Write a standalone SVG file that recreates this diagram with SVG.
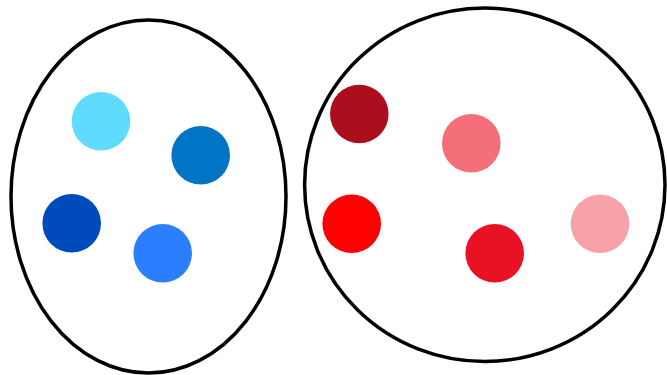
<svg xmlns="http://www.w3.org/2000/svg" width="667" height="375" viewBox="0 0 667 375">
<style>
.set{fill:none;stroke:#000;stroke-width:3.5}
</style>
<rect width="667" height="375" fill="#fff"/>
<g id="set-blue"><ellipse class="set" cx="148.5" cy="196.5" rx="137.5" ry="176.5"/></g>
<g id="set-red"><ellipse class="set" cx="484.8" cy="184.8" rx="180.2" ry="176.7"/></g>
<g id="b1"><circle cx="101" cy="121.3" r="29.3" fill="#5FDBFF"/></g>
<g id="b2"><circle cx="200.7" cy="155.3" r="29.3" fill="#0074C5"/></g>
<g id="b3"><circle cx="71.7" cy="223.3" r="29.3" fill="#004BBB"/></g>
<g id="b4"><circle cx="162.7" cy="253.3" r="29.3" fill="#2B7FFF"/></g>
<g id="r1"><circle cx="359.3" cy="114" r="29.3" fill="#AB0F1E"/></g>
<g id="r2"><circle cx="471.3" cy="143.3" r="29.3" fill="#F56F7B"/></g>
<g id="r3"><circle cx="351.7" cy="223.7" r="29.3" fill="#FF0000"/></g>
<g id="r4"><circle cx="494.7" cy="253.3" r="29.3" fill="#E81224"/></g>
<g id="r5"><circle cx="600" cy="223.7" r="29.3" fill="#F7A1A8"/></g>
<g id="connectors"></g>
</svg>
